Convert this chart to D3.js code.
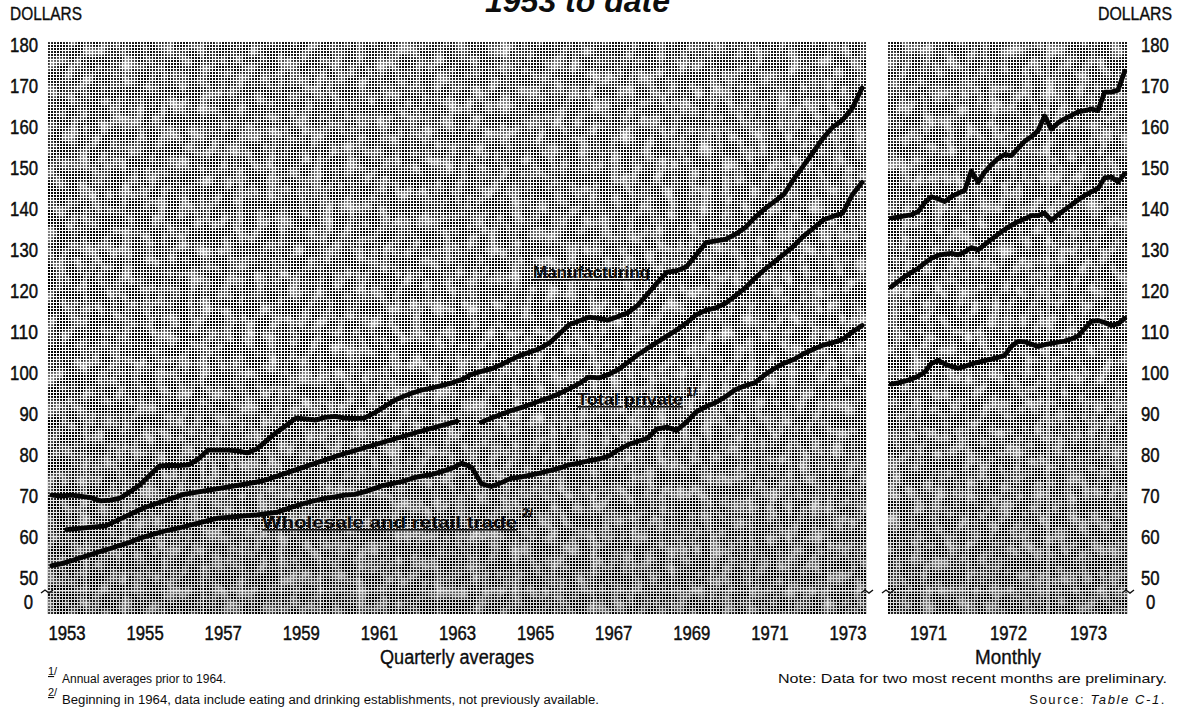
<!DOCTYPE html>
<html>
<head>
<meta charset="utf-8">
<script src="https://cdn.jsdelivr.net/npm/d3@7/dist/d3.min.js"></script>
<style>
  body { margin: 0; background: #fff; }
  svg text { font-family: "Liberation Sans", Arial, sans-serif; fill: #0d0d0d; }
</style>
</head>
<body>
<script>
var svgWidth = 1181;
var svgHeight = 714;

// quarterly averages, 1953 Q1 - 1973 Q4 (dollars per week)
var manufacturing = [
  70.2, 70.0, 70.2, 69.9,   69.6, 68.8, 69.0, 69.5,   71.0, 72.7, 75.0, 77.3,
  77.5, 77.4, 77.6, 79.0,   81.2, 81.2, 81.2, 81.0,   80.5, 81.5, 83.5, 85.5,
  87.2, 89.0, 88.8, 88.5,   89.2, 89.4, 89.0, 88.9,   89.0, 90.2, 91.7, 93.2,
  94.3, 95.2, 95.9, 96.4,   97.0, 97.6, 98.4, 99.7,   100.4, 101.0, 102.0, 103.2,
  104.3, 105.1, 106.0, 107.4,   109.6, 111.8, 112.7, 113.6,   113.3, 112.9, 113.8, 114.7,
  116.5, 119.2, 122.0, 124.6,   124.9, 125.9, 128.8, 131.8,   132.2, 132.6, 133.8, 135.4,
  137.9, 140.0, 141.8, 143.6,   147.3, 150.6, 153.9, 157.3,   160.0, 161.7, 164.6, 169.5
];
var wholesaleTrade = [
  53.0, 53.5, 54.2, 55.0,   55.7, 56.5, 57.2, 58.0,   58.7, 59.7, 60.4, 61.1,
  61.7, 62.2, 62.8, 63.4,   64.0, 64.6, 64.8, 65.0,   65.2, 65.4, 65.7, 66.0,
  66.8, 67.6, 68.3, 68.9,   69.4, 69.8, 70.2, 70.4,   71.0, 71.8, 72.6, 73.1,
  73.6, 74.4, 74.9, 75.3,   76.0, 76.8, 78.0, 77.0,   73.0, 72.3, 73.2, 74.3,
  74.6, 75.1, 75.6, 76.2,   76.8, 77.6, 78.0, 78.6,   79.0, 79.7, 81.2, 82.5,
  83.3, 84.1, 86.4, 86.8,   86.0, 88.0, 90.5, 91.8,   92.8, 94.2, 95.9, 96.9,
  97.6, 99.5, 101.1, 102.4,   103.3, 104.7, 105.8, 106.8,   107.4, 108.2, 110.0, 111.6
];
// total private: annual averages 1953-1963, quarterly from 1964 Q1
var privateAnnualYears = d3.range(1953, 1964);
var totalPrivateAnnual = [61.8, 62.7, 67.2, 70.4, 72.0, 73.6, 76.8, 80.0, 82.8, 85.6, 88.2];
var totalPrivateQuarterly = [
  88.0, 89.0, 89.9, 90.8,   91.5, 92.3, 93.2, 94.0,   95.0, 96.2, 97.4, 99.0,
  98.8, 99.6, 100.8, 102.6,   104.4, 106.0, 107.5, 109.0,   110.5, 112.2, 114.2, 115.3,
  115.9, 117.0, 118.8, 120.7,   123.1, 125.2, 127.1, 129.0,   131.0, 133.4, 135.3, 137.3,
  138.2, 139.0, 143.5, 146.5
];

// monthly, Jan 1971 - Dec 1973
var manufacturingMonthly = [
  137.8, 138.0, 138.3, 138.6, 139.3, 141.5, 143.0, 142.5, 141.8, 143.0, 143.8, 144.5,
  149.3, 146.5, 149.0, 150.8, 152.3, 153.3, 153.0, 154.8, 156.5, 157.6, 159.1, 162.7,
  159.5, 161.0, 162.0, 162.8, 163.7, 164.0, 164.4, 164.0, 168.5, 168.5, 169.0, 173.6
];
var totalPrivateMonthly = [
  121.0, 122.3, 123.5, 124.5, 125.5, 126.8, 128.0, 128.7, 129.0, 129.2, 128.8, 129.5,
  130.6, 130.0, 131.3, 132.6, 133.8, 135.0, 136.0, 136.9, 137.6, 138.4, 138.4, 139.0,
  137.2, 138.6, 139.8, 141.0, 142.2, 143.3, 144.2, 145.0, 147.6, 147.8, 146.6, 148.6
];
var wholesaleMonthly = [
  97.3, 97.6, 98.0, 98.5, 99.2, 100.2, 102.3, 103.1, 102.2, 101.6, 101.2, 101.6,
  102.2, 102.6, 103.0, 103.4, 103.8, 104.3, 106.5, 107.7, 107.6, 107.0, 106.5, 106.9,
  107.2, 107.5, 107.8, 108.3, 109.0, 110.8, 112.6, 112.8, 112.3, 111.6, 112.0, 113.3
];

var yTicks = [50, 60, 70, 80, 90, 100, 110, 120, 130, 140, 150, 160, 170, 180];
var zeroTick = ["0"];
var quarterlyLabels = [1953, 1955, 1957, 1959, 1961, 1963, 1965, 1967, 1969, 1971, 1973];
var monthlyLabels = [1971, 1972, 1973];

// time values for each point
var quarterT = manufacturing.map(function(d, i) { return 1953 + (i + 0.5) / 4; });
var privateQT = totalPrivateQuarterly.map(function(d, i) { return 1964 + (i + 0.5) / 4; });
var monthT = manufacturingMonthly.map(function(d, i) { return 1971 + (i + 0.5) / 12; });

function pairs(ts, vs) {
  return vs.map(function(v, i) { return { t: ts[i], v: v }; });
}

// squeeze a text to the width the condensed original type takes
function condense(sel, perChar) {
  sel.each(function() {
    var n = this.textContent.length;
    d3.select(this).attr("textLength", n * perChar).attr("lengthAdjust", "spacingAndGlyphs");
  });
}

var panelTop = 41, panelBottom = 614;

var xQ = d3.scaleLinear().domain([1953, 1974]).range([47, 867]);
var xM = d3.scaleLinear().domain([1971, 1974]).range([888, 1128]);
var y = d3.scaleLinear().domain([50, 180]).range([578, 45]);
var breakY = y(50) + 13;

var svg = d3.select("body").append("svg")
  .attr("width", svgWidth)
  .attr("height", svgHeight);

// halftone screen of the printed original
var defs = svg.append("defs");
var pat = defs.append("pattern")
  .attr("id", "halftone")
  .attr("patternUnits", "userSpaceOnUse")
  .attr("width", 3).attr("height", 3);
pat.append("rect").attr("width", 3).attr("height", 3).attr("fill", "#fff");
pat.append("rect").attr("width", 2).attr("height", 2).attr("fill", "#000");

var grain = defs.append("filter").attr("id", "grain")
  .attr("x", 0).attr("y", 0).attr("width", 1).attr("height", 1);
grain.append("feTurbulence")
  .attr("type", "fractalNoise").attr("baseFrequency", "0.09 0.07")
  .attr("numOctaves", 2).attr("seed", 11);
grain.append("feColorMatrix").attr("type", "matrix")
  .attr("values", "0 0 0 0 1  0 0 0 0 1  0 0 0 0 1  1.6 0 0 0 -0.68");

var shade = defs.append("linearGradient").attr("id", "shade")
  .attr("x1", 0).attr("y1", 0).attr("x2", 0).attr("y2", 1);
shade.append("stop").attr("offset", "0%").attr("stop-color", "#fff").attr("stop-opacity", 0.06);
shade.append("stop").attr("offset", "55%").attr("stop-color", "#000").attr("stop-opacity", 0.0);
shade.append("stop").attr("offset", "100%").attr("stop-color", "#000").attr("stop-opacity", 0.16);

var panels = [
  { x: xQ, domain: [1953, 1974], id: "clipQ" },
  { x: xM, domain: [1971, 1974], id: "clipM" }
];

panels.forEach(function(p) {
  var x0 = p.x(p.domain[0]), x1 = p.x(p.domain[1]);
  defs.append("clipPath").attr("id", p.id).append("rect")
    .attr("x", x0).attr("y", panelTop).attr("width", x1 - x0).attr("height", panelBottom - panelTop);

  var g = svg.append("g").attr("clip-path", "url(#" + p.id + ")");
  g.append("rect").attr("x", x0).attr("y", panelTop)
    .attr("width", x1 - x0).attr("height", panelBottom - panelTop)
    .attr("fill", "url(#halftone)");
  g.append("rect").attr("x", x0).attr("y", panelTop)
    .attr("width", x1 - x0).attr("height", panelBottom - panelTop)
    .attr("filter", "url(#grain)");
  g.append("rect").attr("x", x0).attr("y", panelTop)
    .attr("width", x1 - x0).attr("height", panelBottom - panelTop)
    .attr("fill", "url(#shade)");

  // faint white grid: years and 10-dollar steps
  g.selectAll(".vgrid").data(d3.range(p.domain[0] + 1, p.domain[1]))
    .enter().append("line")
    .attr("x1", function(d) { return p.x(d); }).attr("x2", function(d) { return p.x(d); })
    .attr("y1", panelTop).attr("y2", panelBottom)
    .attr("stroke", "#fff").attr("stroke-width", 1.5).attr("opacity", 0.55);
  g.selectAll(".hgrid").data(yTicks.slice(1, -1))
    .enter().append("line")
    .attr("x1", x0).attr("x2", x1)
    .attr("y1", function(d) { return y(d); }).attr("y2", function(d) { return y(d); })
    .attr("stroke", "#fff").attr("stroke-width", 1).attr("opacity", 0.25);

  // scale break between 0 and 50
  g.append("line").attr("x1", x0).attr("x2", x1)
    .attr("y1", breakY).attr("y2", breakY)
    .attr("stroke", "#fff").attr("stroke-width", 1.5).attr("opacity", 0.6);
  [x0, x1].forEach(function(xe) {
    svg.append("path")
      .attr("d", "M" + (xe - 6) + "," + (breakY + 2) + " l4,-3 l4,3 l4,-3")
      .attr("fill", "none").attr("stroke", "#111").attr("stroke-width", 1.4);
  });
});

// series lines
var line = function(x) {
  return d3.line().x(function(d) { return x(d.t); }).y(function(d) { return y(d.v); });
};
var series = [
  { x: xQ, data: pairs(quarterT, manufacturing) },
  { x: xQ, data: pairs(quarterT, wholesaleTrade) },
  { x: xQ, data: pairs(privateAnnualYears.map(function(d) { return d + 0.5; }), totalPrivateAnnual) },
  { x: xQ, data: pairs(privateQT, totalPrivateQuarterly) },
  { x: xM, data: pairs(monthT, manufacturingMonthly) },
  { x: xM, data: pairs(monthT, totalPrivateMonthly) },
  { x: xM, data: pairs(monthT, wholesaleMonthly) }
];
svg.append("g").selectAll("path").data(series).enter().append("path")
  .attr("d", function(s) { return line(s.x)(s.data); })
  .attr("fill", "none")
  .attr("stroke", "#050505")
  .attr("stroke-width", 4.8)
  .attr("stroke-linejoin", "round")
  .attr("stroke-linecap", "round");

// series labels
var lab = svg.append("g").style("font-family", "'Liberation Serif', serif")
  .style("font-weight", "bold").style("font-size", "16px");
lab.append("text").attr("x", 533).attr("y", 278).attr("text-decoration", "underline")
  .attr("textLength", 117).attr("lengthAdjust", "spacingAndGlyphs").text("Manufacturing");
lab.append("text").attr("x", 577).attr("y", 405).attr("text-decoration", "underline")
  .attr("textLength", 106).attr("lengthAdjust", "spacingAndGlyphs").text("Total private");
lab.append("text").attr("x", 686).attr("y", 396).style("font-size", "13px").text("1/");
lab.append("text").attr("x", 262).attr("y", 528).attr("text-decoration", "underline")
  .attr("textLength", 255).attr("lengthAdjust", "spacingAndGlyphs").text("Wholesale and retail trade");
lab.append("text").attr("x", 522).attr("y", 517).style("font-size", "13px").text("2/");

// axes
var leftAxis = d3.axisLeft(y).tickValues(yTicks).tickSize(0).tickPadding(0);
var rightAxis = d3.axisRight(y).tickValues(yTicks).tickSize(0).tickPadding(0);
svg.append("g").attr("class", "yaxis").attr("transform", "translate(38,0)").call(leftAxis);
svg.append("g").attr("class", "yaxis").attr("transform", "translate(1141,0)").call(rightAxis);

var bottomQ = d3.axisBottom(xQ).tickValues(quarterlyLabels.map(function(d) { return d + 0.5; }))
  .tickFormat(function(d) { return Math.floor(d); }).tickSize(0).tickPadding(0);
var bottomM = d3.axisBottom(xM).tickValues(monthlyLabels.map(function(d) { return d + 0.5; }))
  .tickFormat(function(d) { return Math.floor(d); }).tickSize(0).tickPadding(0);
svg.append("g").attr("class", "xaxis").attr("transform", "translate(0,626)").call(bottomQ);
svg.append("g").attr("class", "xaxis").attr("transform", "translate(0,626)").call(bottomM);

svg.selectAll(".yaxis text, .xaxis text")
  .style("font-family", "'Liberation Sans', Arial, sans-serif")
  .style("font-size", "20px").attr("fill", "#0d0d0d")
  .attr("stroke", "#0d0d0d").attr("stroke-width", 0.45);
condense(svg.selectAll(".yaxis text, .xaxis text"), 9.3);
svg.selectAll(".yaxis .domain, .xaxis .domain").remove();

// the zero below the scale break
var zl = svg.selectAll(".zeroL").data(zeroTick).enter().append("text")
  .attr("x", 33).attr("y", y(50) + 25).attr("dy", "0.32em")
  .attr("text-anchor", "end").style("font-size", "20px")
  .attr("stroke", "#0d0d0d").attr("stroke-width", 0.45).text(function(d) { return d; });
var zr = svg.selectAll(".zeroR").data(zeroTick).enter().append("text")
  .attr("x", 1146).attr("y", y(50) + 25).attr("dy", "0.32em")
  .style("font-size", "20px")
  .attr("stroke", "#0d0d0d").attr("stroke-width", 0.45).text(function(d) { return d; });
condense(zl, 9.3);
condense(zr, 9.3);

// titles and notes
svg.append("text").attr("x", 485).attr("y", 12)
  .style("font-weight", "bold").style("font-style", "italic").style("font-size", "32px")
  .text("1953 to date");
svg.append("text").attr("x", 10).attr("y", 20).style("font-size", "18px")
  .attr("stroke", "#0d0d0d").attr("stroke-width", 0.35)
  .attr("textLength", 72).attr("lengthAdjust", "spacingAndGlyphs").text("DOLLARS");
svg.append("text").attr("x", 1098).attr("y", 20).style("font-size", "18px")
  .attr("stroke", "#0d0d0d").attr("stroke-width", 0.35)
  .attr("textLength", 74).attr("lengthAdjust", "spacingAndGlyphs").text("DOLLARS");

svg.append("text").attr("x", xQ(1963.5) - 77).attr("y", 664)
  .style("font-size", "20px").attr("stroke", "#0d0d0d").attr("stroke-width", 0.35)
  .attr("textLength", 154).attr("lengthAdjust", "spacingAndGlyphs")
  .text("Quarterly averages");
svg.append("text").attr("x", xM(1972.5) - 33).attr("y", 664)
  .style("font-size", "20px").attr("stroke", "#0d0d0d").attr("stroke-width", 0.35)
  .attr("textLength", 66).attr("lengthAdjust", "spacingAndGlyphs")
  .text("Monthly");

var notes = svg.append("g").style("font-size", "12px");
notes.append("text").attr("x", 48).attr("y", 675).style("font-size", "11px").attr("text-decoration", "underline").text("1");
notes.append("text").attr("x", 54).attr("y", 675).style("font-size", "11px").text("/");
notes.append("text").attr("x", 62).attr("y", 683).text("Annual averages prior to 1964.");
notes.append("text").attr("x", 48).attr("y", 696).style("font-size", "11px").attr("text-decoration", "underline").text("2");
notes.append("text").attr("x", 54).attr("y", 696).style("font-size", "11px").text("/");
notes.append("text").attr("x", 62).attr("y", 704)
  .attr("textLength", 537).attr("lengthAdjust", "spacingAndGlyphs")
  .text("Beginning in 1964, data include eating and drinking establishments, not previously available.");
notes.append("text").attr("x", 778).attr("y", 683).style("font-size", "13px")
  .attr("textLength", 389).attr("lengthAdjust", "spacingAndGlyphs")
  .text("Note: Data for two most recent months are preliminary.");
var src = notes.append("text").attr("x", 1166).attr("y", 704).attr("text-anchor", "end")
  .style("font-size", "13px").style("letter-spacing", "1.6px");
src.append("tspan").text("Source: ");
src.append("tspan").style("font-style", "italic").text("Table C-1");
src.append("tspan").text(".");
</script>
</body>
</html>
